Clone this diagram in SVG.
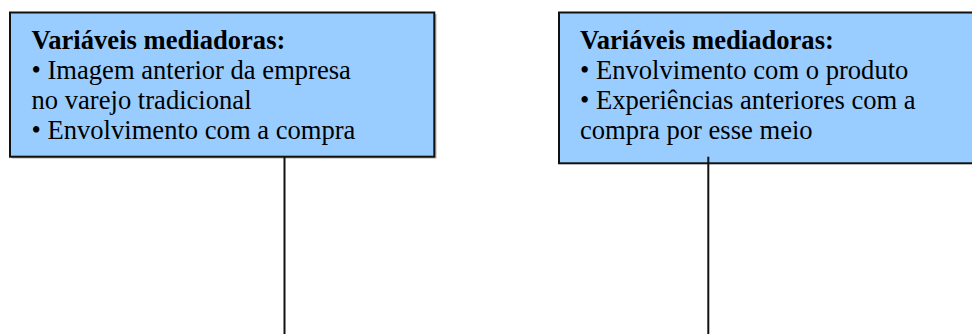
<svg xmlns="http://www.w3.org/2000/svg" width="972" height="334" viewBox="0 0 972 334">
  <style>
    .box { fill: #99CCFF; stroke: #111; stroke-width: 2; }
    .shadow { fill: #b0b0b0; }
    .txt { font-family: "Liberation Serif", "Times New Roman", serif; font-size: 26.6px; fill: #000; }
    .head { font-weight: bold; }
    .conn { stroke: #111; stroke-width: 2; fill: none; }
  </style>
  <rect width="972" height="334" fill="#fff"/>

  <g id="mediadoras-empresa">
    <rect class="shadow" x="11.5" y="14" width="425" height="144.5"/>
    <rect class="box" x="10" y="12.5" width="424.3" height="144.2"/>
    <text class="txt" x="31.5" y="48.5"><tspan class="head">Variáveis mediadoras:</tspan></text>
    <text class="txt" x="31.5" y="78.5">• Imagem anterior da empresa</text>
    <text class="txt" x="31.5" y="108.5">no varejo tradicional</text>
    <text class="txt" x="31.5" y="138.5">• Envolvimento com a compra</text>
  </g>

  <g id="mediadoras-produto">
    <rect class="box" x="559" y="12.5" width="420" height="150.8"/>
    <text class="txt" x="580" y="49">
      <tspan class="head">Variáveis mediadoras:</tspan>
    </text>
    <text class="txt" x="580" y="79">• Envolvimento com o produto</text>
    <text class="txt" x="580" y="109">• Experiências anteriores com a</text>
    <text class="txt" x="580" y="138.5">compra por esse meio</text>
  </g>

  <g id="connectors">
    <line class="conn" x1="284.5" y1="156.7" x2="284.5" y2="334"/>
    <line class="conn" x1="708.3" y1="156.7" x2="708.3" y2="334"/>
  </g>
</svg>
